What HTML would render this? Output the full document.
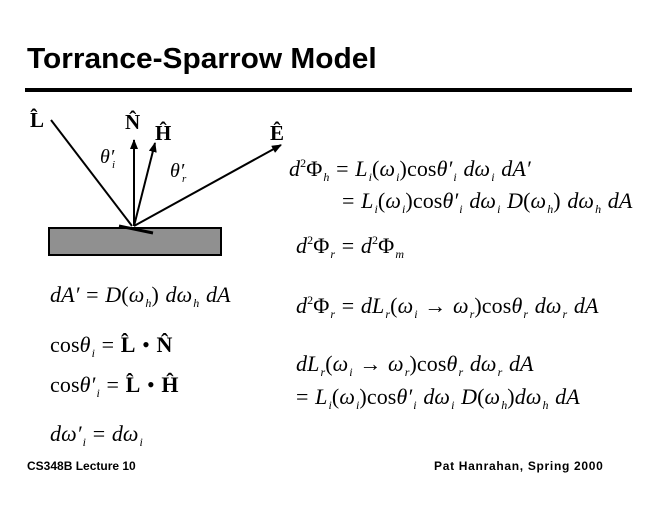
<!DOCTYPE html>
<html><head><meta charset="utf-8"><style>
body{margin:0;width:660px;height:510px;background:#fff;position:relative;overflow:hidden;font-family:"Liberation Serif",serif}
.t{position:absolute;white-space:nowrap;font-size:22px;line-height:1;letter-spacing:0.1px;word-spacing:1px}
i{font-style:italic}
sub{font-size:12px;font-style:italic;vertical-align:-5px;margin-left:1px}
sup{font-size:12px;vertical-align:9px}
</style></head><body>
<div style="position:absolute;left:27px;top:43px;font:bold 29px 'Liberation Sans',sans-serif;letter-spacing:0px;transform:scaleX(1.03);transform-origin:left">Torrance-Sparrow Model</div>
<div style="position:absolute;left:25px;top:88px;width:607px;height:4px;background:#000"></div>
<svg width="660" height="510" style="position:absolute;left:0;top:0">
<defs><marker id="a" markerWidth="10" markerHeight="8" refX="9" refY="4" orient="auto" markerUnits="userSpaceOnUse"><path d="M0,0L10,4L0,8z"/></marker></defs>
<rect x="49" y="228" width="172" height="27" fill="#909090" stroke="#000" stroke-width="2"/>
<g stroke="#000" stroke-width="2" fill="none">
<line x1="51" y1="120" x2="132" y2="226"/>
<line x1="134" y1="226" x2="134" y2="140" marker-end="url(#a)"/>
<line x1="134" y1="226" x2="155" y2="143" marker-end="url(#a)"/>
<line x1="134" y1="226" x2="281" y2="145" marker-end="url(#a)"/>
<line x1="119" y1="226" x2="153" y2="233" stroke-width="3"/>
</g>
<text x="30" y="127" font-family="Liberation Serif" font-weight="bold" font-size="21">L̂</text>
<text x="125" y="129" font-family="Liberation Serif" font-weight="bold" font-size="21">N̂</text>
<text x="155" y="140" font-family="Liberation Serif" font-weight="bold" font-size="21">Ĥ</text>
<text x="270" y="140" font-family="Liberation Serif" font-weight="bold" font-size="21">Ê</text>
<text x="100" y="163" font-family="Liberation Serif" font-style="italic" font-size="20">θ′</text>
<text x="112" y="168" font-family="Liberation Serif" font-style="italic" font-size="11">i</text>
<text x="170" y="177" font-family="Liberation Serif" font-style="italic" font-size="20">θ′</text>
<text x="182" y="182" font-family="Liberation Serif" font-style="italic" font-size="11">r</text>
</svg>
<div class="t" style="left:289px;top:157px"><i>d</i><sup>2</sup>Φ<sub>h</sub> = <i>L<sub>i</sub></i>(<i>ω<sub>i</sub></i>)cos<i>θ′<sub>i</sub> dω<sub>i</sub> dA′</i></div>
<div class="t" style="left:342px;top:190px">= <i>L<sub>i</sub></i>(<i>ω<sub>i</sub></i>)cos<i>θ′<sub>i</sub> dω<sub>i</sub> D</i>(<i>ω<sub>h</sub></i>) <i>dω<sub>h</sub> dA</i></div>
<div class="t" style="left:296px;top:234px"><i>d</i><sup>2</sup>Φ<sub>r</sub> = <i>d</i><sup>2</sup>Φ<sub>m</sub></div>
<div class="t" style="left:296px;top:294px"><i>d</i><sup>2</sup>Φ<sub>r</sub> = <i>dL<sub>r</sub></i>(<i>ω<sub>i</sub></i> → <i>ω<sub>r</sub></i>)cos<i>θ<sub>r</sub> dω<sub>r</sub> dA</i></div>
<div class="t" style="left:296px;top:353px"><i>dL<sub>r</sub></i>(<i>ω<sub>i</sub></i> → <i>ω<sub>r</sub></i>)cos<i>θ<sub>r</sub> dω<sub>r</sub> dA</i></div>
<div class="t" style="left:296px;top:386px">= <i>L<sub>i</sub></i>(<i>ω<sub>i</sub></i>)cos<i>θ′<sub>i</sub> dω<sub>i</sub> D</i>(<i>ω<sub>h</sub></i>)<i>dω<sub>h</sub> dA</i></div>
<div class="t" style="left:50px;top:284px"><i>dA′</i> = <i>D</i>(<i>ω<sub>h</sub></i>) <i>dω<sub>h</sub> dA</i></div>
<div class="t" style="left:50px;top:334px">cos<i>θ<sub>i</sub></i> = <b>L̂</b> • <b>N̂</b></div>
<div class="t" style="left:50px;top:374px">cos<i>θ′<sub>i</sub></i> = <b>L̂</b> • <b>Ĥ</b></div>
<div class="t" style="left:50px;top:423px"><i>dω′<sub>i</sub></i> = <i>dω<sub>i</sub></i></div>
<div style="position:absolute;left:27px;top:459px;font:bold 12px 'Liberation Sans',sans-serif">CS348B Lecture 10</div>
<div style="position:absolute;left:434px;top:459px;font:bold 12px 'Liberation Sans',sans-serif;letter-spacing:0.7px">Pat Hanrahan, Spring 2000</div>
</body></html>
